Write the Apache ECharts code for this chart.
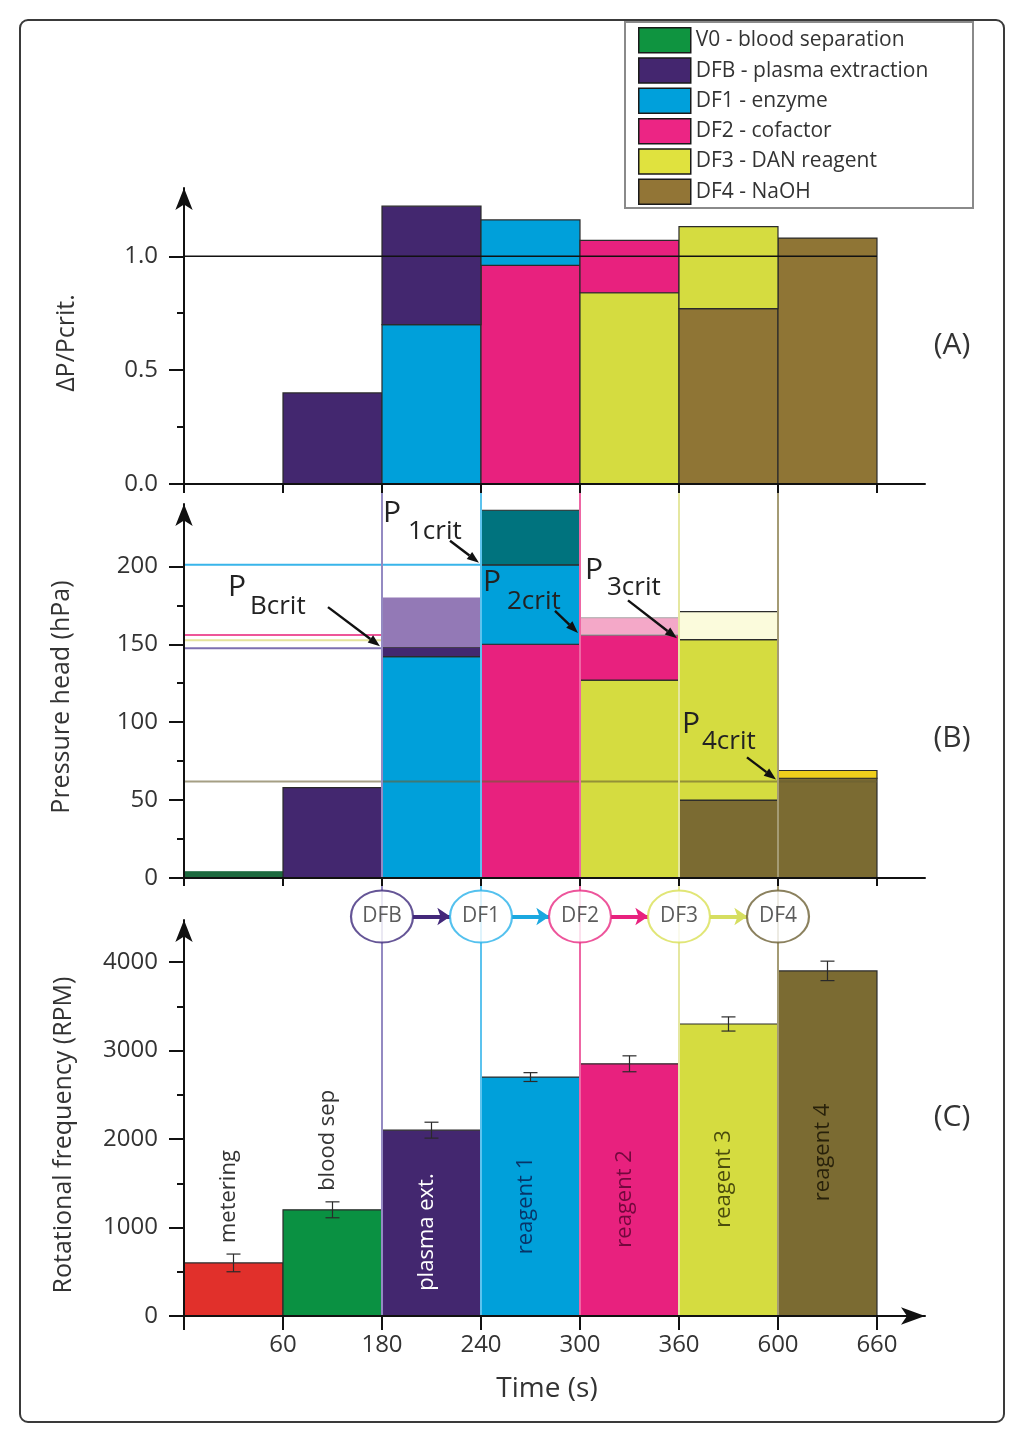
<!DOCTYPE html>
<html><head><meta charset="utf-8">
<script src="https://cdn.jsdelivr.net/npm/echarts@6/dist/echarts.min.js"></script>
<style>html,body{margin:0;padding:0;background:#fff}#c{width:1024px;height:1444px}</style>
</head><body><div id="c"></div>
<script>
// ---------------- DATA ----------------
const binTickLabels = ['60', '180', '240', '300', '360', '600', '660'];
// Panel A : ΔP/Pcrit per time bin (lower block and stacked total)
const aLower = [null, 0.40, 0.70, 0.96, 0.84, 0.77, 1.08];
const aUpper = [null, null, 1.22, 1.16, 1.07, 1.13, null];
const aRefLevel = 1.0;
// Panel B : pressure head (hPa), three stacked layers (tops)
const bLayer1 = [4, 58, 142, 150, 127, 50, 64];
const bLayer2 = [null, null, 148, 201, 156, 153, 69];
const bLayer3 = [null, null, 180, 236, 167, 171, null];
// critical pressures
const pCritNames = ['Bcrit', '1crit', '2crit', '3crit', '4crit'];
const pCritValues = [147.5, 201, 156, 152.5, 62];
const pCritBoundary = [2, 3, 4, 5, 6];
const pCritLineEnd = [2, 3, 4, 5, 7];
// Panel C : rotational frequency (RPM)
const rpm = [600, 1200, 2100, 2700, 2850, 3300, 3900];
const rpmErr = [100, 90, 90, 50, 90, 80, 110];
const stepNames = ['metering', 'blood sep', 'plasma ext.', 'reagent 1', 'reagent 2', 'reagent 3', 'reagent 4'];
const dfNames = ['DFB', 'DF1', 'DF2', 'DF3', 'DF4'];
const dfBoundary = [2, 3, 4, 5, 6];
const legendNames = ['V0 - blood separation', 'DFB - plasma extraction', 'DF1 - enzyme', 'DF2 - cofactor', 'DF3 - DAN reagent', 'DF4 - NaOH'];

// ---------------- STYLE ----------------
const FONT = "'Open Sans', 'Noto Sans', sans-serif";
const TXT = '#333';
const COL = {
  V0: '#0a9142', V0d: '#1d6a3f', DFB: '#43276f', DF1: '#00a0da', DF2: '#e8217e', DF3: '#d5dc40',
  DF4: '#8f7535', DF4d: '#7b6b32', red: '#e1302b', teal: '#00737e', lPur: '#9379b6',
  lPink: '#f4a8c8', lYel: '#fbfbdc', gold: '#f0cf1c'
};
const STROKE = { lPur: 'rgba(0,0,0,0)', lPink: '#a8a8a8', V0d: '#1d6a3f' };
const legendColors = ['#0f9440', '#44266f', '#00a0db', '#ec2584', '#e0e23e', '#927536'];
const aKeys = [[null, 'DFB', 'DF1', 'DF2', 'DF3', 'DF4', 'DF4'], [null, null, 'DFB', 'DF1', 'DF2', 'DF3', null]];
const bKeys = [['V0d', 'DFB', 'DF1', 'DF2', 'DF3', 'DF4d', 'DF4d'], [null, null, 'DFB', 'DF1', 'DF2', 'DF3', 'gold'], [null, null, 'lPur', 'teal', 'lPink', 'lYel', null]];
const cKeys = ['red', 'V0', 'DFB', 'DF1', 'DF2', 'DF3', 'DF4d'];
const cLabelAbove = [true, true, false, false, false, false, false];
const cLabelColor = ['#333', '#333', '#ffffff', 'rgba(10,25,75,0.8)', 'rgba(75,0,40,0.75)', 'rgba(40,40,0,0.8)', 'rgba(20,15,0,0.8)'];
const critColors = ['#7d6fb1', '#39b5ea', '#ee5699', '#e4e39c', 'rgba(105,95,50,0.6)'];
const critZ = [2, 2, 2, 2, 4];
const connColors = ['#948ac2', '#5cc3ee', '#ee66a4', '#e5e7a0', '#a49b74'];
const circleColors = ['#3e2a7c', '#29b2ea', '#e82a82', '#d9e055', '#6e6236'];
const arrowColors = ['#43287a', '#1aa8e0', '#e8217e', '#d6de60'];
// label offsets (px) relative to the critical point on its line
const critLabelOffsets = [
  { p: [-154, -61], s: [-132, -42], t: [-54, -41] },
  { p: [-98, -51], s: [-73, -33], t: [-31, -24] },
  { p: [-97, -52], s: [-73, -33], t: [-25, -24] },
  { p: [-94, -70], s: [-72, -53], t: [-51, -40] },
  { p: [-96, -57], s: [-76, -40], t: [-31, -24] }
];

function buildStack(layers, keys) {
  const segs = [], fills = [], strokes = [];
  layers.forEach((layer, L) => {
    layer.forEach((v, i) => {
      if (v == null) return;
      const base = L === 0 ? 0 : layers[L - 1][i];
      segs.push([i, base, v]);
      fills.push(COL[keys[L][i]]);
      strokes.push(STROKE[keys[L][i]] || '#2b2b2b');
    });
  });
  return { segs, fills, strokes };
}
const stackA = buildStack([aLower, aUpper], aKeys);
const stackB = buildStack([bLayer1, bLayer2, bLayer3], bKeys);

function stackRender(st) {
  return function (params, api) {
    const i = api.value(0), y0 = api.value(1), y1 = api.value(2);
    const p0 = api.coord([i, y0]), p1 = api.coord([i + 1, y1]);
    const k = params.dataIndex;
    return {
      type: 'rect',
      shape: { x: p0[0], y: p1[1], width: p1[0] - p0[0], height: p0[1] - p1[1] },
      style: { fill: st.fills[k], stroke: st.strokes[k], lineWidth: 1.2 }
    };
  };
}

function renderC(params, api) {
  const i = api.value(0), v = api.value(1), e = api.value(2);
  const p0 = api.coord([i, 0]), p1 = api.coord([i + 1, v]);
  const cx = api.coord([i + 0.5, v])[0];
  const eTop = api.coord([i + 0.5, v + e])[1], eBot = api.coord([i + 0.5, v - e])[1];
  const k = params.dataIndex;
  const lbl = cLabelAbove[k]
    ? { x: cx - 5, y: eTop - 11, align: 'left' }
    : { x: cx - 5, y: (p0[1] + p1[1]) / 2 + 9, align: 'center' };
  const es = { stroke: '#2a2a2a', lineWidth: 1.2 };
  return {
    type: 'group',
    children: [
      { type: 'rect', shape: { x: p0[0], y: p1[1], width: p1[0] - p0[0], height: p0[1] - p1[1] },
        style: { fill: COL[cKeys[k]], stroke: '#2b2b2b', lineWidth: 1.2 } },
      { type: 'line', shape: { x1: cx, y1: eTop, x2: cx, y2: eBot }, style: es },
      { type: 'line', shape: { x1: cx - 7, y1: eTop, x2: cx + 7, y2: eTop }, style: es },
      { type: 'line', shape: { x1: cx - 7, y1: eBot, x2: cx + 7, y2: eBot }, style: es },
      { type: 'text', x: lbl.x, y: lbl.y, rotation: Math.PI / 2,
        style: { text: stepNames[k], fill: cLabelColor[k], fontSize: 22, fontFamily: FONT,
                 align: lbl.align, verticalAlign: 'middle' } }
    ]
  };
}

const XMAX = 7.485;
const L = 184, R = 99;
function xAx(gridIndex, tickLen, extra) {
  return Object.assign({
    type: 'value', gridIndex, min: 0, max: XMAX, z: 10,
    axisLine: { show: true, lineStyle: { color: '#111', width: 2 } },
    axisTick: { show: true, length: tickLen, customValues: [0, 1, 2, 3, 4, 5, 6, 7], lineStyle: { color: '#111', width: 2 } },
    axisLabel: { show: false }, splitLine: { show: false }
  }, extra || {});
}
function yMain(gridIndex, max, majors, fmt) {
  return {
    type: 'value', gridIndex, min: 0, max, position: 'left', offset: 0, z: 10,
    axisLine: { show: true, symbol: ['none', 'arrow'], symbolSize: [13, 22], lineStyle: { color: '#111', width: 2 } },
    axisTick: { show: true, length: 15, customValues: majors, lineStyle: { color: '#111', width: 2 } },
    axisLabel: { show: true, customValues: majors, margin: 26, fontSize: 24, color: TXT, fontFamily: FONT, formatter: fmt },
    splitLine: { show: false }
  };
}
function yMinor(gridIndex, max, minors) {
  return {
    type: 'value', gridIndex, min: 0, max, position: 'left', offset: 0, z: 10,
    axisLine: { show: false },
    axisTick: { show: true, length: 7, customValues: minors, lineStyle: { color: '#111', width: 2 } },
    axisLabel: { show: false }, splitLine: { show: false }
  };
}

const series = [];
// connectors (grid E)
series.push({
  type: 'line', xAxisIndex: 4, yAxisIndex: 7, data: [], z: 1, silent: true,
  markLine: { symbol: 'none', silent: true, label: { show: false }, animation: false,
    data: dfBoundary.map((b, k) => ({ xAxis: b, lineStyle: { color: connColors[k], width: 2, type: 'solid' } })) }
});
// panel A
series.push({ type: 'custom', xAxisIndex: 0, yAxisIndex: 0, z: 3, data: stackA.segs, renderItem: stackRender(stackA) });
series.push({ type: 'line', xAxisIndex: 0, yAxisIndex: 0, z: 4, symbol: 'none', silent: true,
  data: [[0, aRefLevel], [7, aRefLevel]], lineStyle: { color: '#111', width: 1.6 } });
// panel B
series.push({ type: 'custom', xAxisIndex: 1, yAxisIndex: 2, z: 3, data: stackB.segs, renderItem: stackRender(stackB) });
pCritValues.forEach((v, k) => {
  series.push({ type: 'line', xAxisIndex: 1, yAxisIndex: 2, z: critZ[k], symbol: 'none', silent: true,
    data: [[0, v], [pCritLineEnd[k], v]], lineStyle: { color: critColors[k], width: 2 } });
});
// panel C
series.push({ type: 'custom', xAxisIndex: 2, yAxisIndex: 4, z: 3, data: rpm.map((v, i) => [i, v, rpmErr[i]]), renderItem: renderC });
// circles (grid D)
series.push({
  type: 'scatter', xAxisIndex: 3, yAxisIndex: 6, z: 5, silent: true,
  symbol: 'circle', symbolSize: [62, 52],
  data: dfBoundary.map((b, k) => ({ value: [b, 0.5], itemStyle: { color: '#fff', borderColor: circleColors[k], borderWidth: 2 } })),
  label: { show: true, position: 'inside', formatter: p => dfNames[p.dataIndex], fontSize: 21, color: TXT, fontFamily: FONT },
  markLine: { symbol: ['none', 'arrow'], symbolSize: 13, silent: true, label: { show: false }, animation: false,
    data: dfBoundary.slice(0, -1).map((b, k) => [
      { coord: [b + 0.31, 0.5], lineStyle: { color: arrowColors[k], width: 4, type: 'solid' } },
      { coord: [b + 0.69, 0.5] }
    ]) }
});
// legend dummy series
legendNames.forEach((n, k) => {
  series.push({ type: 'bar', name: n, xAxisIndex: 0, yAxisIndex: 0, data: [], itemStyle: { color: legendColors[k] } });
});

const chart = echarts.init(document.getElementById('c'), null, { renderer: 'canvas' });
chart.setOption({
  animation: false,
  backgroundColor: '#ffffff',
  textStyle: { fontFamily: FONT },
  legend: {
    data: legendNames, orient: 'vertical', left: 633, top: 22, padding: 5,
    itemWidth: 52, itemHeight: 25, itemGap: 3.8,
    icon: 'rect', selectedMode: false,
    itemStyle: { borderColor: '#1a1a1a', borderWidth: 1.5 },
    textStyle: { fontSize: 21, lineHeight: 25, height: 25, color: TXT, fontFamily: FONT }
  },
  grid: [
    { left: L, right: R, top: 188, height: 296 },
    { left: L, right: R, top: 504, height: 374 },
    { left: L, right: R, top: 920, height: 396 },
    { left: L, right: R, top: 890, height: 53 },
    { left: L, right: R, top: 484, height: 832 }
  ],
  xAxis: [
    xAx(0, 9),
    xAx(1, 8),
    xAx(2, 14, {
      axisLine: { show: true, symbol: ['none', 'arrow'], symbolSize: [13, 24], lineStyle: { color: '#111', width: 2 } },
      axisLabel: { show: true, customValues: [1, 2, 3, 4, 5, 6, 7], margin: 17, fontSize: 24, color: TXT, fontFamily: FONT,
        formatter: v => binTickLabels[Math.round(v) - 1] }
    }),
    { type: 'value', gridIndex: 3, min: 0, max: XMAX, show: false },
    { type: 'value', gridIndex: 4, min: 0, max: XMAX, show: false }
  ],
  yAxis: [
    yMain(0, 1.3, [0, 0.5, 1.0], v => v.toFixed(1)),
    yMinor(0, 1.3, [0.25, 0.75]),
    yMain(1, 240, [0, 50, 100, 150, 200], v => String(v)),
    yMinor(1, 240, [25, 75, 125, 175]),
    yMain(2, 4475, [0, 1000, 2000, 3000, 4000], v => String(v)),
    yMinor(2, 4475, [500, 1500, 2500, 3500]),
    { type: 'value', gridIndex: 3, min: 0, max: 1, show: false },
    { type: 'value', gridIndex: 4, min: 0, max: 1, show: false }
  ],
  series
});

// ---------- annotations ----------
const g = [];
g.push({ type: 'rect', z: 0, shape: { x: 20, y: 20, width: 984, height: 1402, r: 8 }, style: { fill: 'none', stroke: '#3a3a3a', lineWidth: 2 } });
g.push({ type: 'rect', z: 0, shape: { x: 625, y: 22, width: 348, height: 186 }, style: { fill: '#fff', stroke: '#8a8a8a', lineWidth: 2 } });
function txt(text, x, y, size, rot, align) {
  return { type: 'text', z: 50, x, y, rotation: rot || 0,
    style: { text, x: 0, y: 0, fill: TXT, fontSize: size, fontFamily: FONT, align: align || 'center', verticalAlign: 'middle' } };
}
g.push(txt('ΔP/Pcrit.', 67, 343, 25, Math.PI / 2));
g.push(txt('Pressure head (hPa)', 62, 697, 25, Math.PI / 2));
g.push(txt('Rotational frequency (RPM)', 64, 1135, 25, Math.PI / 2));
g.push(txt('Time (s)', 547, 1389, 28, 0));
g.push(txt('(A)', 952, 345, 30, 0));
g.push(txt('(B)', 952, 738, 30, 0));
g.push(txt('(C)', 952, 1117, 30, 0));

pCritValues.forEach((v, k) => {
  const tip = chart.convertToPixel({ xAxisIndex: 1, yAxisIndex: 2 }, [pCritBoundary[k], v]);
  const o = critLabelOffsets[k];
  g.push({ type: 'text', z: 60, x: tip[0] + o.p[0], y: tip[1] + o.p[1],
    style: { text: 'P', fill: '#222', fontSize: 30, fontFamily: FONT, align: 'left', verticalAlign: 'middle' } });
  g.push({ type: 'text', z: 60, x: tip[0] + o.s[0], y: tip[1] + o.s[1],
    style: { text: pCritNames[k], fill: '#222', fontSize: 26, fontFamily: FONT, align: 'left', verticalAlign: 'middle' } });
  const tx = tip[0] + o.t[0], ty = tip[1] + o.t[1];
  const ex = tip[0] - 2, ey = tip[1] - 2;
  const dx = ex - tx, dy = ey - ty, len = Math.hypot(dx, dy), ux = dx / len, uy = dy / len;
  const hl = 12, hw = 4.5;
  const bx = ex - ux * hl, by = ey - uy * hl;
  g.push({ type: 'line', z: 60, shape: { x1: tx, y1: ty, x2: bx, y2: by }, style: { stroke: '#111', lineWidth: 2.4 } });
  g.push({ type: 'polygon', z: 60, shape: { points: [[ex, ey], [bx - uy * hw, by + ux * hw], [bx + uy * hw, by - ux * hw]] }, style: { fill: '#111' } });
});
chart.setOption({ graphic: g });
</script>
</body></html>
